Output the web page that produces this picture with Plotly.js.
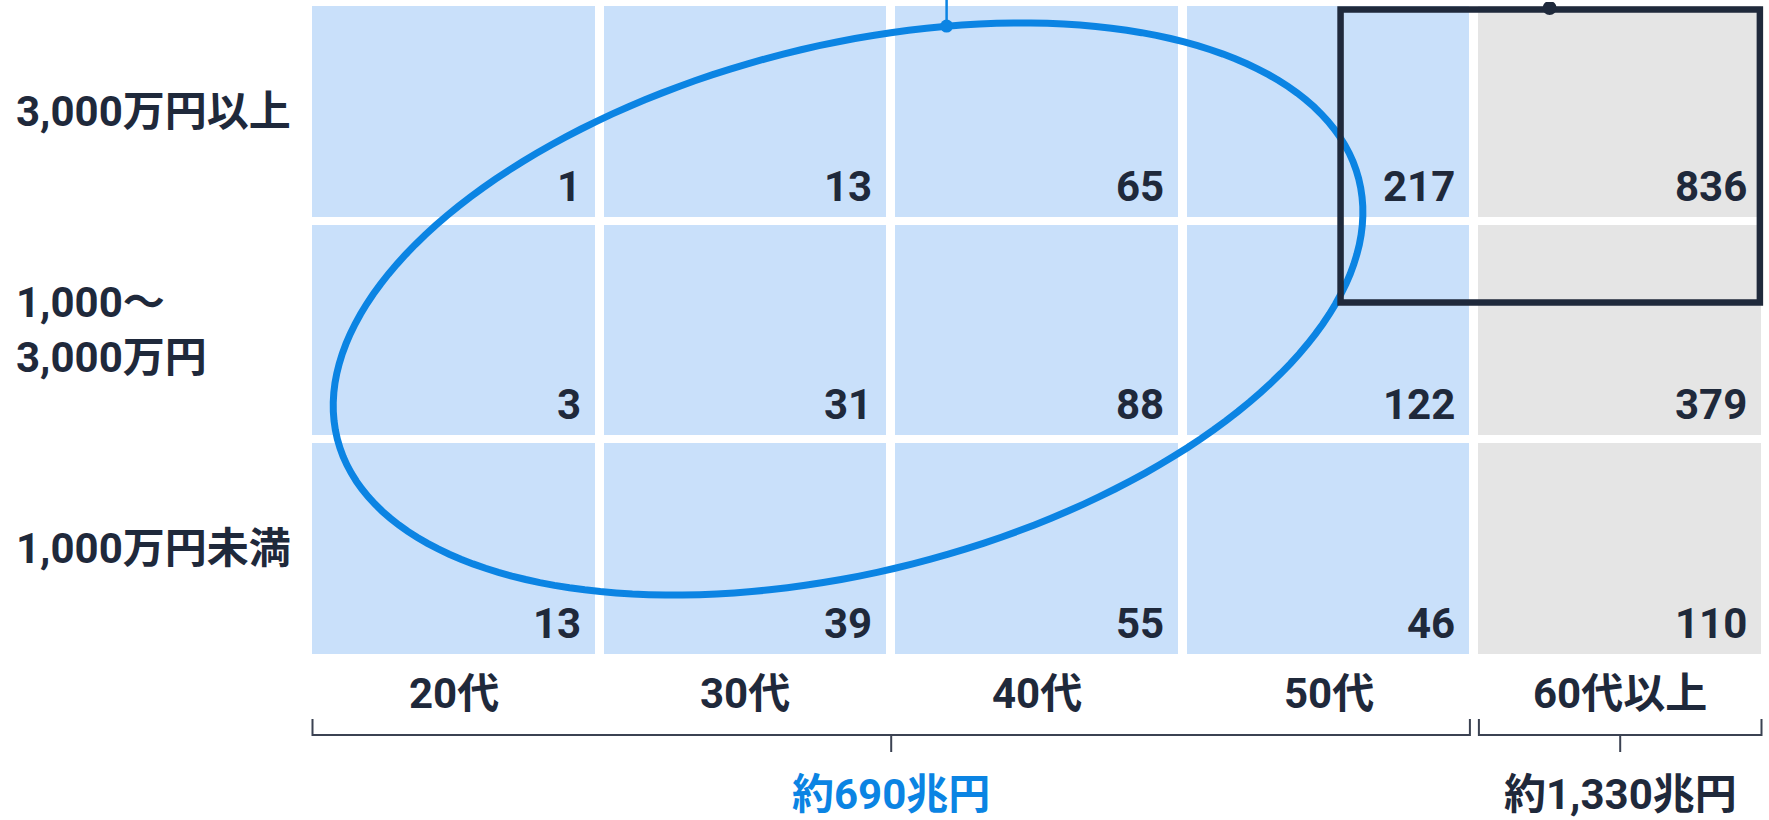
<!DOCTYPE html>
<html>
<head>
<meta charset="utf-8">
<script src="https://cdn.plot.ly/plotly-3.0.1.min.js"></script>
<style>html,body{margin:0;padding:0;background:#fff;}#chart{width:1769px;height:820px;}</style>
</head>
<body>
<div id="chart"></div>
<script>
// ---- data ----
const ages = ['20代', '30代', '40代', '50代', '60代以上'];
const incomes = ['1,000万円未満', '1,000～<br>3,000万円', '3,000万円以上']; // bottom -> top
const row_under1000 = [13, 39, 55, 46, 110];
const row_1000to3000 = [3, 31, 88, 122, 379];
const row_over3000 = [1, 13, 65, 217, 836];
const ageGroup = [0, 0, 0, 0, 1];           // 0: 〜50代, 1: 60代以上
const groupLabels = ['約690兆円', '約1,330兆円'];

// ---- style ----
const FONT = 'Roboto, "Noto Sans CJK JP", sans-serif';
const DARK = '#1f293b';
const BLUE = '#0b84e3';
const CELL_BLUE = '#c9e0fa';
const CELL_GRAY = '#e5e5e5';
const FS = 42;
const W = 1769, H = 820;
const M = {l: 308, r: 3, t: 2, b: 162};
const PW = W - M.l - M.r, PH = H - M.t - M.b;
const pxX = PW / 5, pxY = PH / 3;          // pixels per data unit

const rows = [row_under1000, row_1000to3000, row_over3000];
const xIdx = ages.map((_, i) => i);
const yIdx = incomes.map((_, i) => i);
const z = rows.map(() => ageGroup.slice());

const heat = {
  type: 'heatmap',
  x: xIdx, y: yIdx, z: z,
  zmin: 0, zmax: 1,
  colorscale: [[0, CELL_BLUE], [1, CELL_GRAY]],
  showscale: false,
  xgap: 9, ygap: 8,
  hoverinfo: 'skip'
};

const font = (c) => ({family: FONT, size: FS, color: c || DARK, weight: 700});
const annotations = [];
// cell values, bottom-right
rows.forEach((r, ri) => r.forEach((v, ci) => {
  annotations.push({
    x: ci + 0.5, y: ri - 0.5, xref: 'x', yref: 'y',
    text: String(v), showarrow: false,
    xanchor: 'right', yanchor: 'bottom', xshift: -17, yshift: 8,
    font: font()
  });
}));
// row labels
incomes.forEach((t, ri) => annotations.push({
  x: (14 - M.l) / PW, xref: 'paper', y: ri, yref: 'y',
  text: t, showarrow: false, xanchor: 'left', yanchor: 'middle', align: 'left',
  font: font()
}));
// column labels
ages.forEach((t, ci) => annotations.push({
  x: ci, xref: 'x', y: -35 / PH, yref: 'paper',
  text: t, showarrow: false, xanchor: 'center', yanchor: 'middle',
  font: font()
}));

// brackets & group totals
const shapes = [];
const inset = 4.5 / pxX;
const yTop = -61 / PH, yLine = -77 / PH, yTick = -94 / PH;
[0, 1].forEach(g => {
  const cols = xIdx.filter(i => ageGroup[i] === g);
  const x0 = Math.min(...cols) - 0.5 + inset, x1 = Math.max(...cols) + 0.5 - inset;
  const xm = (Math.min(...cols) + Math.max(...cols)) / 2;
  const line = {color: '#3b4252', width: 2};
  shapes.push({type: 'path', xref: 'x', yref: 'paper',
    path: `M ${x0} ${yTop} L ${x0} ${yLine} L ${x1} ${yLine} L ${x1} ${yTop}`, line: line});
  shapes.push({type: 'line', xref: 'x', yref: 'paper', x0: xm, x1: xm, y0: yLine, y1: yTick, line: line});
  annotations.push({
    x: xm, xref: 'x', y: -137 / PH, yref: 'paper',
    text: groupLabels[g], showarrow: false, xanchor: 'center', yanchor: 'middle',
    font: font(g === 0 ? BLUE : DARK)
  });
});

// highlight ellipse (data units)
const ell = {cx: 1.352, cy: 1.096, a: 527, b: 263, rot: 14.27};
(function () {
  const th = ell.rot * Math.PI / 180;
  const ux = Math.cos(th), uy = Math.sin(th);
  let d = '';
  for (let k = 0; k <= 180; k++) {
    const t = k / 180 * 2 * Math.PI;
    const dx = ell.a * Math.cos(t) * ux - ell.b * Math.sin(t) * uy;
    const dy = ell.a * Math.cos(t) * uy + ell.b * Math.sin(t) * ux;
    const X = ell.cx + dx / pxX, Y = ell.cy + dy / pxY;
    d += (k === 0 ? 'M ' : ' L ') + X.toFixed(4) + ' ' + Y.toFixed(4);
  }
  shapes.push({type: 'path', xref: 'x', yref: 'y', path: d + ' Z', line: {color: BLUE, width: 7}});
})();
// blue pin
const pinX = 1.69, pinY = 2.39;
shapes.push({type: 'line', xref: 'x', yref: 'paper', x0: pinX, x1: pinX,
  y0: (pinY + 0.5) / 3, y1: 1 + 3 / PH, line: {color: BLUE, width: 2.5}});
shapes.push({type: 'circle', xref: 'x', yref: 'y', xsizemode: 'pixel', ysizemode: 'pixel',
  xanchor: pinX, yanchor: pinY, x0: -6.5, x1: 6.5, y0: -6.5, y1: 6.5,
  fillcolor: BLUE, line: {width: 0}});

// dark box (high-income 50代 & 60代以上)
shapes.push({type: 'rect', xref: 'x', yref: 'y', x0: 3.041, x1: 4.479, y0: 1.126, y1: 2.466,
  line: {color: DARK, width: 6.5}, fillcolor: 'rgba(0,0,0,0)'});
shapes.push({type: 'circle', xref: 'x', yref: 'y', xsizemode: 'pixel', ysizemode: 'pixel',
  xanchor: 3.758, yanchor: 2.4726, x0: -7, x1: 7, y0: -7, y1: 7,
  fillcolor: DARK, line: {width: 0}});

const layout = {
  width: W, height: H,
  margin: M,
  paper_bgcolor: '#ffffff', plot_bgcolor: '#ffffff',
  xaxis: {range: [-0.5, 4.5], visible: false, fixedrange: true},
  yaxis: {range: [-0.5, 2.5], visible: false, fixedrange: true},
  showlegend: false,
  annotations: annotations,
  shapes: shapes
};

Plotly.newPlot('chart', [heat], layout, {displayModeBar: false, staticPlot: true});
</script>
</body>
</html>
